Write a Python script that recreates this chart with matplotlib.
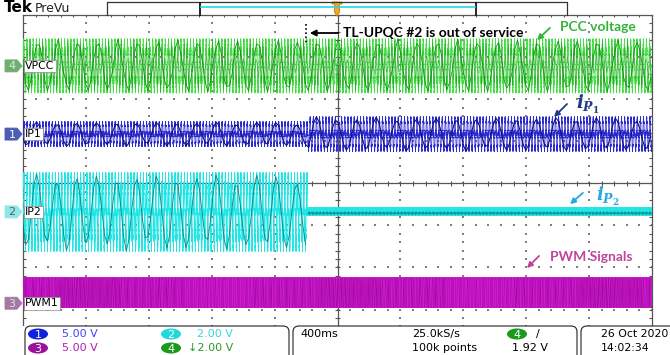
import numpy as np
import matplotlib.pyplot as plt
from matplotlib.patches import Polygon, Ellipse, FancyBboxPatch, Rectangle

plt.rcParams['mathtext.fontset'] = 'custom'
plt.rcParams['mathtext.it'] = 'DejaVu Serif:bold:italic'
plt.rcParams['mathtext.rm'] = 'DejaVu Serif:bold'

# scope settings
sample_rate = 25000.0     # 25.0kS/s
record_len = 100000       # 100k points
time_per_div = 0.4        # 400ms / div
line_freq = 50.0
event_time = -0.19        # s, TL-UPQC #2 leaves service

# channels, positions and amplitudes in divisions
ch_names = ['VPCC', 'IP1', 'IP2', 'PWM1']
ch_numbers = ['4', '1', '2', '3']
ch_offset = [2.79, 1.17, -0.68, -2.85]
amp_before = [0.57, 0.26, 0.80, 0.70]
amp_after = [0.57, 0.36, 0.04, 0.70]
light_cols = ['#45dd45', '#2a2ad0', '#22e6e6', '#d01ad0']
dark_cols = ['#179017', '#12127a', '#0a7c7c', '#800080']

# readout text
scale_txt = ['5.00 V', '2.00 V', '5.00 V', '\u21932.00 V']
scale_cols = ['#4040ff', '#33d8d8', '#b020b0', '#2a9a2a']

W, H = 670, 355
x0, x1 = 23, 652
yc, dv = 183.3, 42.08   # centre row and px per division

fig = plt.figure(figsize=(W / 100, H / 100), dpi=100)
fig.patch.set_facecolor('white')

# scope graticule axes, in divisions
ax = fig.add_axes([x0 / W, 1 - (yc + 4 * dv) / H, (x1 - x0) / W, 8 * dv / H])
ax.set_xlim(-5, 5)
ax.set_ylim(-4, 4)
ax.set_xticks([])
ax.set_yticks([])
for s in ax.spines.values():
    s.set_color('#555555')
    s.set_linewidth(0.9)

# dotted grid
minor_x = np.arange(-5, 5.01, 0.2)
minor_y = np.arange(-4, 4.01, 0.2)
for gx in range(-4, 5):
    if gx != 0:
        ax.scatter(np.full(minor_y.size, gx), minor_y, s=0.7, marker='s', color='#808080', lw=0, zorder=1)
for gy in range(-3, 4):
    if gy != 0:
        ax.scatter(minor_x, np.full(minor_x.size, gy), s=0.7, marker='s', color='#808080', lw=0, zorder=1)
ax.axhline(0, color='#555555', lw=0.9, zorder=1)
ax.axvline(0, color='#555555', lw=0.9, zorder=1)
ax.vlines(minor_x, -0.06, 0.06, color='#555555', lw=0.8, zorder=1)
ax.hlines(minor_y, -0.04, 0.04, color='#555555', lw=0.8, zorder=1)
ax.hlines(minor_y, -5, -4.95, color='#555555', lw=0.8, zorder=1)
ax.hlines(minor_y, 4.95, 5, color='#555555', lw=0.8, zorder=1)
ax.vlines(minor_x, 3.95, 4, color='#555555', lw=0.8, zorder=1)

t = np.arange(record_len) / sample_rate - record_len / sample_rate / 2
xd = t / time_per_div
w = 2 * np.pi * line_freq * t
after = t >= event_time
step = 432   # display decimation -> alias pattern of the scope screen

# VPCC
i = 0
amp = np.where(after, amp_after[i], amp_before[i])
v = ch_offset[i] + amp * (np.sin(w) + 0.09 * np.sin(5 * w + 0.7) + 0.05 * np.sin(113 * w))
ax.plot(xd, v, color=light_cols[i], lw=0.5, zorder=3)
ax.plot(xd[::step], v[::step], color=dark_cols[i], lw=0.6, zorder=3)
ax.plot(xd[3::step // 2 + 7], v[3::step // 2 + 7], color=dark_cols[i], lw=0.4, alpha=0.7, zorder=3)

# IP1
i = 1
amp = np.where(after, amp_after[i], amp_before[i])
v = ch_offset[i] + amp * (np.sin(w - 0.4) + 0.1 * np.sin(7 * w) + 0.06 * np.sin(97 * w))
ax.plot(xd, v, color=light_cols[i], lw=0.5, zorder=3)
ax.plot(xd[::step], v[::step], color=dark_cols[i], lw=0.8, zorder=3)

# IP2 - stops when TL-UPQC #2 goes out of service
i = 2
v = ch_offset[i] + amp_before[i] * (np.sin(w - 0.4) + 0.12 * np.sin(7 * w) + 0.06 * np.sin(97 * w))
v_off = ch_offset[i] + amp_after[i] * np.sin(131 * w)
v = np.where(after, v_off, v)
ax.plot(xd, v, color=light_cols[i], lw=0.5, zorder=3)
ax.plot(xd[after], v[after], color=light_cols[i], lw=3.5, zorder=3)
b = ~after
ax.plot(xd[b][::step], v[b][::step], color=dark_cols[i], lw=0.7, alpha=0.85, zorder=3)
ax.plot(xd[after][::97], v[after][::97] - 0.03, color=dark_cols[i], lw=0.4, zorder=3)

# PWM1
i = 3
carrier = 2 * np.abs(((t * 2500) % 1.0) - 0.5) * 2 - 1
gate = (0.85 * np.sin(w) > carrier).astype(float)
v = ch_offset[i] - 0.1 + amp_before[i] * gate
ax.plot(xd, v, color=light_cols[i], lw=0.5, zorder=3)
ax.plot(xd[::83], v[::83], color=dark_cols[i], lw=0.3, alpha=0.7, zorder=3)

# overlay in screen pixels
ov = fig.add_axes([0, 0, 1, 1], zorder=5)
ov.set_xlim(0, W)
ov.set_ylim(H, 0)
ov.axis('off')
ov.patch.set_alpha(0)

# top bar
ov.text(4, 8, 'Tek', fontsize=11, fontweight='bold', va='center', ha='left', family='DejaVu Sans')
ov.text(35, 8, 'PreVu', fontsize=9, va='center', ha='left', color='#222222')
ov.plot([107, 107, 567, 567], [15, 2, 2, 15], color='#333333', lw=0.9)
ov.plot([200, 200], [3, 15], color='black', lw=1.2)
ov.plot([476, 476], [3, 15], color='black', lw=1.2)
ov.plot([201, 475], [7, 7], color='#22d8e8', lw=1.2)
ov.add_patch(Polygon([[332, 2], [342, 2], [342, 4], [339.5, 4], [339.5, 12], [337, 16],
                      [334.5, 12], [334.5, 4], [332, 4]], closed=True,
                     facecolor='#f5a623', edgecolor='#c67a00', lw=0.6))

# channel markers and names
for k in range(4):
    y = yc - ch_offset[k] * dv
    fc = ['#6fae6f', '#4a5fb0', '#8ee8e8', '#a27aa2'][k]
    tc = ['#d8f0d8', '#ffffff', '#606060', '#f0d8f0'][k]
    ov.add_patch(Polygon([[5, y - 6], [17, y - 6], [22, y], [17, y + 6], [5, y + 6]],
                         closed=True, facecolor=fc, edgecolor=fc, lw=0.6))
    ov.text(12, y + 0.5, ch_numbers[k], fontsize=8, color=tc, ha='center', va='center')
    ov.text(25, y, ch_names[k], fontsize=7.8, color='black', ha='left', va='center',
            bbox=dict(boxstyle='square,pad=0.12', fc='white', ec='#888888', lw=0.5))

# annotations
ov.plot([306, 306], [24, 45], color='black', lw=1.2, ls=(0, (1, 1.5)))
ov.annotate('', xy=(307, 33), xytext=(341, 33),
            arrowprops=dict(arrowstyle='-|>', color='black', lw=1.3, mutation_scale=9))
ov.text(343, 33, 'TL-UPQC #2 is out of service', fontsize=10, fontweight='bold',
        family='Lato', ha='left', va='center')

green = '#33b33a'
ov.text(560, 27, 'PCC voltage', fontsize=10, fontweight='bold', family='Lato',
        color=green, ha='left', va='center')
ov.annotate('', xy=(535, 42), xytext=(552, 26),
            arrowprops=dict(arrowstyle='-|>', color=green, lw=1.3, mutation_scale=8))

navy = '#1f3c88'
ov.text(576, 104, r'$i_{P_1}$', fontsize=13, color=navy, ha='left', va='center')
ov.annotate('', xy=(552, 119), xytext=(569, 102),
            arrowprops=dict(arrowstyle='-|>', color=navy, lw=1.3, mutation_scale=8))

sky = '#29a8e0'
ov.text(596, 196, r'$i_{P_2}$', fontsize=13, color=sky, ha='left', va='center')
ov.annotate('', xy=(568, 206), xytext=(585, 191),
            arrowprops=dict(arrowstyle='-|>', color=sky, lw=1.3, mutation_scale=8))

pink = '#c0449c'
ov.text(550, 257, 'PWM Signals', fontsize=10, fontweight='bold', family='Lato',
        color=pink, ha='left', va='center')
ov.annotate('', xy=(525, 270), xytext=(541, 254),
            arrowprops=dict(arrowstyle='-|>', color=pink, lw=1.3, mutation_scale=8))

# bottom readout panel
ov.add_patch(Rectangle((0, 326), W, 30, facecolor='white', edgecolor='none', zorder=6))
for bx0, bx1 in [(25, 289), (293, 577), (581, 690)]:
    ov.add_patch(FancyBboxPatch((bx0 + 4, 330), bx1 - bx0 - 8, 40,
                                boxstyle='round,pad=4,rounding_size=6',
                                facecolor='white', edgecolor='#222222', lw=0.8, zorder=7))
for k, (ex, ey, ec) in enumerate([(38, 334, '#1020e0'), (171, 334, '#22d8d8'),
                                   (38, 348, '#9a109a'), (171, 348, '#1a9a1a')]):
    ov.add_patch(Ellipse((ex, ey), 20, 11, facecolor=ec, edgecolor='none', zorder=8))
    ov.text(ex, ey + 0.5, ['1', '2', '3', '4'][k], fontsize=8, color='white',
            ha='center', va='center', zorder=9)
for k, (tx, ty) in enumerate([(62, 334), (197, 334), (62, 348), (188, 348)]):
    ov.text(tx, ty, scale_txt[k], fontsize=8, color=scale_cols[k], ha='left', va='center', zorder=9)
ov.text(300, 334, '400ms', fontsize=8, ha='left', va='center', zorder=9)
ov.text(412, 334, '25.0kS/s', fontsize=8, ha='left', va='center', zorder=9)
ov.text(412, 348, '100k points', fontsize=8, ha='left', va='center', zorder=9)
ov.add_patch(Ellipse((517, 334), 20, 11, facecolor='#1a9a1a', edgecolor='none', zorder=8))
ov.text(517, 334.5, '4', fontsize=8, color='white', ha='center', va='center', zorder=9)
ov.text(536, 334, '/', fontsize=8, ha='left', va='center', zorder=9)
ov.text(512, 348, '1.92 V', fontsize=8, ha='left', va='center', zorder=9)
ov.text(601, 334, '26 Oct 2020', fontsize=7.8, ha='left', va='center', zorder=9)
ov.text(601, 348, '14:02:34', fontsize=7.8, ha='left', va='center', zorder=9)

fig.savefig('out.png', dpi=100)
